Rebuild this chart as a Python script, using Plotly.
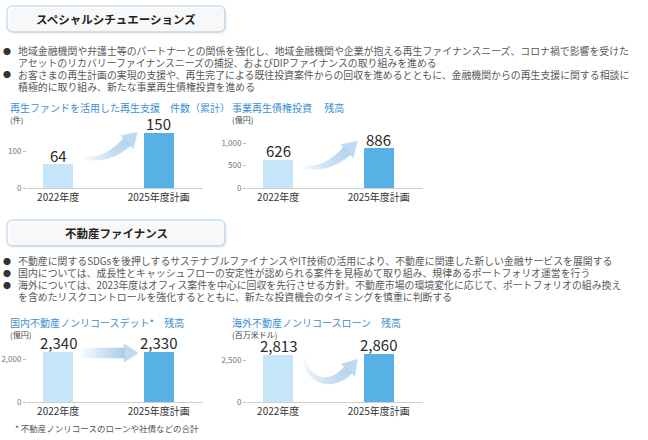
import plotly.graph_objects as go

# data
years = ["2022年度", "2025年度計画"]
support_counts = [64, 150]          # 再生ファンドを活用した再生支援 件数（累計）
claims_balance = [626, 886]         # 事業再生債権投資 残高（億円）
domestic_debt = [2340, 2330]        # 国内不動産ノンリコースデット 残高（億円）
overseas_loans = [2813, 2860]       # 海外不動産ノンリコースローン 残高（百万米ドル）

W, H = 648, 440
FONT = "Noto Sans CJK JP"
BAR_COLORS = ["#c6e5f8", "#58b1e5"]


def px(x):
    return x / W


def py(y):
    return 1 - y / H


fig = go.Figure()
ann = []

charts = [
    (support_counts, "x", "y"),
    (claims_balance, "x2", "y2"),
    (domestic_debt, "x3", "y3"),
    (overseas_loans, "x4", "y4"),
]
for vals, xa, ya in charts:
    fig.add_trace(go.Bar(
        x=years, y=vals, xaxis=xa, yaxis=ya,
        marker=dict(color=BAR_COLORS, line=dict(width=0)),
        width=0.30, showlegend=False, hoverinfo="skip",
    ))
    # value labels just above each bar
    for cat, v in zip(years, vals):
        ann.append(dict(x=cat, y=v, xref=xa, yref=ya, text=f"{v:,}",
                        showarrow=False, yanchor="middle", yshift=9, borderpad=0,
                        font=dict(family=FONT, size=15, color="#2b2b2b")))

xrange_ = [-0.31, 1.44]


def xax(left, right, anchor):
    return dict(domain=[px(left), px(right)], range=xrange_, showline=True,
                linecolor="#cfcfcf", linewidth=1, ticks="", showgrid=False,
                automargin=False, anchor=anchor,
                tickfont=dict(family=FONT, size=10, color="#333"), fixedrange=True)


def yax(bottom, top, ymax, tickvals, anchor):
    return dict(domain=[py(bottom), py(top)], range=[0, ymax], showline=False,
                showgrid=False, zeroline=False, ticks="outside", ticklen=3,
                tickcolor="#bbb", tickvals=tickvals, automargin=False,
                ticktext=[f"{t:,}" for t in tickvals],
                tickfont=dict(family=FONT, size=8, color="#777"), anchor=anchor)


# ---------- arrows (gradient, built from small polygons) ----------
shapes = []


def path(points):
    return "M " + " L ".join(f"{px(x):.5f},{py(y):.5f}" for x, y in points) + " Z"


def cubic(p0, c1, c2, p1, t):
    u = 1 - t
    x = u**3*p0[0] + 3*u*u*t*c1[0] + 3*u*t*t*c2[0] + t**3*p1[0]
    y = u**3*p0[1] + 3*u*u*t*c1[1] + 3*u*t*t*c2[1] + t**3*p1[1]
    dx = 3*u*u*(c1[0]-p0[0]) + 6*u*t*(c2[0]-c1[0]) + 3*t*t*(p1[0]-c2[0])
    dy = 3*u*u*(c1[1]-p0[1]) + 6*u*t*(c2[1]-c1[1]) + 3*t*t*(p1[1]-c2[1])
    n = (dx*dx + dy*dy) ** 0.5 or 1
    return (x, y), (dx/n, dy/n)


def mix(t):
    a, b = (244, 249, 254), (47, 133, 207)
    t = t ** 0.9
    return "rgb(%d,%d,%d)" % tuple(round(a[i] + (b[i]-a[i])*t) for i in range(3))


def arrow(p0, c1, c2, p1, w0, w1, head_w, head_len, n=30):
    pts = [cubic(p0, c1, c2, p1, i/n) for i in range(n+1)]
    for i in range(n):
        (a, da), (b, db) = pts[i], pts[i+1]
        wa = w0 + (w1-w0)*i/n
        wb = w0 + (w1-w0)*(i+1)/n
        la = (a[0] - da[1]*wa, a[1] + da[0]*wa)
        ra = (a[0] + da[1]*wa, a[1] - da[0]*wa)
        lb = (b[0] - db[1]*wb, b[1] + db[0]*wb)
        rb = (b[0] + db[1]*wb, b[1] - db[0]*wb)
        c = mix((i+0.5)/n)
        shapes.append(dict(type="path", xref="paper", yref="paper",
                           path=path([la, lb, rb, ra]), fillcolor=c,
                           line=dict(color=c, width=0.6), layer="above"))
    (e, d) = pts[-1]
    tip = (e[0] + d[0]*head_len, e[1] + d[1]*head_len)
    l = (e[0] - d[1]*head_w, e[1] + d[0]*head_w)
    r = (e[0] + d[1]*head_w, e[1] - d[0]*head_w)
    c = mix(1)
    shapes.append(dict(type="path", xref="paper", yref="paper",
                       path=path([l, tip, r]), fillcolor=c,
                       line=dict(color=c, width=0.6), layer="above"))


arrow((82, 158), (100, 160), (112, 156), (127, 142), 0.8, 5, 9, 14)
arrow((302, 167), (320, 169), (332, 165), (347, 151), 0.8, 5, 9, 14)
arrow((82, 353), (97, 353), (110, 353), (124, 353), 5, 5, 9, 14)
arrow((303, 356), (309, 386), (334, 386), (348, 370), 0.8, 5, 9, 14)


# ---------- section header boxes ----------
def rounded(x0, y0, x1, y1, r):
    return (f"M {px(x0+r)},{py(y0)} L {px(x1-r)},{py(y0)} "
            f"Q {px(x1)},{py(y0)} {px(x1)},{py(y0+r)} L {px(x1)},{py(y1-r)} "
            f"Q {px(x1)},{py(y1)} {px(x1-r)},{py(y1)} L {px(x0+r)},{py(y1)} "
            f"Q {px(x0)},{py(y1)} {px(x0)},{py(y1-r)} L {px(x0)},{py(y0+r)} "
            f"Q {px(x0)},{py(y0)} {px(x0+r)},{py(y0)} Z")


for top in (6, 220):
    shapes.append(dict(type="path", xref="paper", yref="paper",
                       path=rounded(9, top+2, 227, top+28.5, 6),
                       fillcolor="rgba(0,0,0,0.13)", line=dict(width=0), layer="below"))
    shapes.append(dict(type="path", xref="paper", yref="paper",
                       path=rounded(7, top, 225, top+26, 6),
                       fillcolor="white", line=dict(color="#4a92d8", width=1.5), layer="below"))


# ---------- texts ----------
def text(x, y, s, size=10, color="#555", anchor="left", bold=False):
    ann.append(dict(x=px(x), y=py(y), xref="paper", yref="paper", text=f"<b>{s}</b>" if bold else s,
                    showarrow=False, xanchor=anchor, yanchor="middle", borderpad=0,
                    font=dict(family=FONT, size=size, color=color)))


text(116, 19, "スペシャルシチュエーションズ", 11.5, "#222", "center", True)
text(116, 233, "不動産ファイナンス", 11.5, "#222", "center", True)

bullets_top = [
    (51, True, "地域金融機関や弁護士等のパートナーとの関係を強化し、地域金融機関や企業が抱える再生ファイナンスニーズ、コロナ禍で影響を受けた"),
    (63, False, "アセットのリカバリーファイナンスニーズの捕捉、およびDIPファイナンスの取り組みを進める"),
    (75, True, "お客さまの再生計画の実現の支援や、再生完了による既往投資案件からの回収を進めるとともに、金融機関からの再生支援に関する相談に"),
    (87, False, "積極的に取り組み、新たな事業再生債権投資を進める"),
]
bullets_bottom = [
    (261, True, "不動産に関するSDGsを後押しするサステナブルファイナンスやIT技術の活用により、不動産に関連した新しい金融サービスを展開する"),
    (273, True, "国内については、成長性とキャッシュフローの安定性が認められる案件を見極めて取り組み、規律あるポートフォリオ運営を行う"),
    (285, True, "海外については、2023年度はオフィス案件を中心に回収を先行させる方針。不動産市場の環境変化に応じて、ポートフォリオの組み換え"),
    (297, False, "を含めたリスクコントロールを強化するとともに、新たな投資機会のタイミングを慎重に判断する"),
]
for y, dot, s in bullets_top + bullets_bottom:
    if dot:
        text(2, y, "●", 8, "#333")
    text(17, y, s, 9.9, "#595959")

TITLE_BLUE = "#3c8fd3"
text(9, 107, "再生ファンドを活用した再生支援　件数（累計）", 10, TITLE_BLUE)
text(9, 119.5, "(件)", 8, "#444")
text(231, 107, "事業再生債権投資　 残高", 10, TITLE_BLUE)
text(231, 119.5, "(億円)", 8, "#444")
text(9, 322, "国内不動産ノンリコースデット*　残高", 10, TITLE_BLUE)
text(9, 334.5, "(億円)", 8, "#444")
text(231, 322, "海外不動産ノンリコースローン　残高", 10, TITLE_BLUE)
text(231, 334.5, "(百万米ドル)", 8, "#444")
text(14, 428, "* 不動産ノンリコースのローンや社債などの合計", 8.5, "#555")

fig.update_layout(
    width=W, height=440,
    margin=dict(l=0, r=0, t=0, b=0, autoexpand=False),
    template="simple_white",
    paper_bgcolor="white", plot_bgcolor="rgba(0,0,0,0)",
    font=dict(family=FONT),
    bargap=0,
    xaxis=xax(27, 203, "y"), yaxis=yax(188, 120, 184, [0, 100], "x"),
    xaxis2=xax(247, 423, "y2"), yaxis2=yax(188, 120, 1511, [0, 500, 1000], "x2"),
    xaxis3=xax(27, 203, "y3"), yaxis3=yax(402, 335, 3116, [0, 2000], "x3"),
    xaxis4=xax(247, 423, "y4"), yaxis4=yax(402, 335, 3988, [0, 2500], "x4"),
    shapes=shapes, annotations=ann,
)

# the page's default body margin would push the figure off the window
fig.write_html("out.html", config={"displayModeBar": False},
               post_script="document.body.style.margin='0';")
